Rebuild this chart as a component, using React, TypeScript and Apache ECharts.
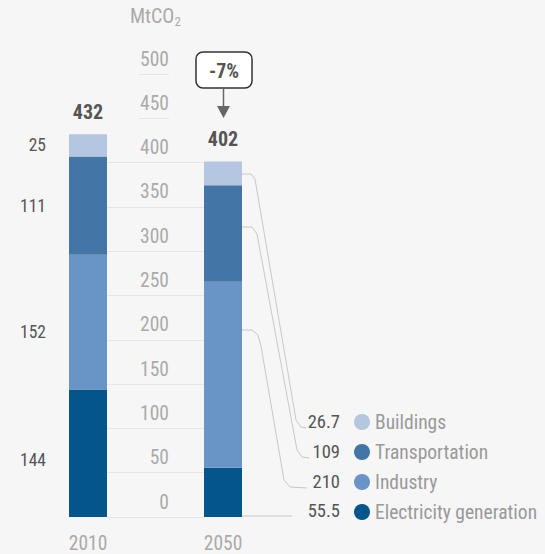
import React, { useEffect, useRef } from "react";
import * as echarts from "echarts";

const years = ["2010", "2050"];
const electricity = [144, 55.5];
const industry = [152, 210];
const transportation = [111, 109];
const buildings = [25, 26.7];
const totals = [432, 402];
const yTicks = [0, 50, 100, 150, 200, 250, 300, 350, 400, 450, 500];
const changeLabel = "-7%";
const seriesNames = ["Electricity generation", "Industry", "Transportation", "Buildings"];
const legendOrder = ["Buildings", "Transportation", "Industry", "Electricity generation"];
const colors = ["#03558b", "#6894c6", "#4376a6", "#b4c6e0"];
const labelShift = [7, 10, 0, 0];

const FONT = '"Roboto Condensed", "Liberation Sans Narrow", Roboto, sans-serif';

export default function App() {
  const ref = useRef<HTMLDivElement>(null);
  useEffect(() => {
    if (!ref.current) return;
    const chart = echarts.init(ref.current, null, { renderer: "svg" });
    const seriesData = [electricity, industry, transportation, buildings];
    const stackSeries = seriesData.map((arr, i) => ({
      name: seriesNames[i],
      type: "bar",
      stack: "total",
      barWidth: 38,
      xAxisIndex: 0,
      yAxisIndex: 0,
      itemStyle: { color: colors[i] },
      label: {
        show: false,
        position: "left",
        distance: 23,
        offset: [0, labelShift[i]],
        color: "#555",
        fontSize: 17.5,
        fontFamily: FONT,
      },
      data: arr.map((v, j) => (j === 0 ? { value: v, label: { show: true } } : v)),
    }));

    const legendValues = legendOrder.map((n) => {
      const idx = seriesNames.indexOf(n);
      return seriesData[idx][1];
    });

    const rowY = [422, 452, 482, 511];
    const graphics: any[] = [
      {
        type: "text",
        left: 130,
        top: 6,
        style: {
          text: "{a|MtCO}{b|2}",
          rich: {
            a: { fontSize: 20, fill: "#aaa", fontFamily: FONT },
            b: { fontSize: 13, fill: "#aaa", fontFamily: FONT, padding: [11, 0, 0, 0] },
          },
        },
      },
      {
        type: "rect",
        shape: { x: 196, y: 52, width: 56, height: 36, r: 7 },
        style: { fill: "#fff", stroke: "#333", lineWidth: 1.5 },
      },
      {
        type: "text",
        x: 224,
        y: 71,
        style: {
          text: changeLabel,
          fontSize: 20,
          fontWeight: "bold",
          fill: "#555",
          fontFamily: FONT,
          align: "center",
          verticalAlign: "middle",
        },
      },
      {
        type: "line",
        shape: { x1: 223.5, y1: 88, x2: 223.5, y2: 108 },
        style: { stroke: "#666", lineWidth: 1.5 },
      },
      {
        type: "polygon",
        shape: { points: [[217, 106], [230, 106], [223.5, 118]] },
        style: { fill: "#666" },
      },
      {
        type: "polyline",
        shape: { points: [[242, 174], [251, 174], [255, 179], [296, 420], [301, 427], [306, 428]] },
        style: { stroke: "#c8c8c8", lineWidth: 1, fill: null },
      },
      {
        type: "polyline",
        shape: { points: [[242, 227], [252, 227], [257, 234], [297, 450], [302, 457], [309, 458]] },
        style: { stroke: "#c8c8c8", lineWidth: 1, fill: null },
      },
      {
        type: "polyline",
        shape: { points: [[242, 330], [252, 330], [258, 335], [261, 346], [284, 480], [290, 487], [307, 488]] },
        style: { stroke: "#c8c8c8", lineWidth: 1, fill: null },
      },
      {
        type: "polyline",
        shape: { points: [[242, 516], [292, 516]] },
        style: { stroke: "#c8c8c8", lineWidth: 1, fill: null },
      },
    ];
    legendValues.forEach((v, i) => {
      graphics.push({
        type: "text",
        x: 340,
        y: rowY[i],
        style: {
          text: String(v),
          fontSize: 18.5,
          fill: "#555",
          fontFamily: FONT,
          align: "right",
          verticalAlign: "middle",
        },
      });
    });

    chart.setOption({
      animation: false,
      backgroundColor: "#f6f6f6",
      grid: [
        { left: 20.5, width: 270, top: 74, height: 443 },
        { left: 107, width: 97, top: 74, height: 443 },
      ],
      xAxis: [
        {
          type: "category",
          gridIndex: 0,
          data: years,
          axisLine: { show: false },
          axisTick: { show: false },
          axisLabel: { color: "#aaa", fontSize: 19.5, fontFamily: FONT, margin: 16 },
        },
        { type: "value", gridIndex: 1, min: 0, max: 97, show: false },
      ],
      yAxis: [
        { type: "value", gridIndex: 0, min: 0, max: 500, show: false },
        {
          type: "value",
          gridIndex: 1,
          min: 0,
          max: 500,
          interval: 50,
          axisLine: { show: false },
          axisTick: { show: false },
          splitLine: { show: false },
          axisLabel: {
            color: "#aaa",
            fontSize: 19.5,
            fontFamily: FONT,
            margin: -62,
            align: "right",
            verticalAlign: "bottom",
            padding: [0, 0, 5, 0],
          },
        },
      ],
      legend: {
        orient: "vertical",
        left: 349,
        top: 407,
        itemWidth: 16,
        itemHeight: 16,
        itemGap: 10,
        icon: "circle",
        selectedMode: false,
        data: legendOrder,
        textStyle: {
          color: "#999",
          fontSize: 19.5,
          lineHeight: 18,
          fontFamily: FONT,
        },
      },
      series: [
        ...stackSeries,
        {
          name: "Total",
          type: "bar",
          barWidth: 38,
          barGap: "-100%",
          xAxisIndex: 0,
          yAxisIndex: 0,
          itemStyle: { color: "rgba(0,0,0,0)" },
          label: {
            show: true,
            position: "top",
            distance: 12,
            fontSize: 20,
            fontWeight: "bold",
            color: "#555",
            fontFamily: FONT,
          },
          data: totals,
          z: 1,
        },
        {
          type: "line",
          xAxisIndex: 1,
          yAxisIndex: 1,
          data: [[0, 0]],
          showSymbol: false,
          lineStyle: { opacity: 0 },
          silent: true,
          markLine: {
            symbol: "none",
            silent: true,
            label: { show: false },
            lineStyle: { color: "#e6e6e6", width: 1, type: "solid" },
            data: yTicks.map((v) => [
              { coord: [v > 400 ? 32 : 0, v] },
              { coord: [v > 400 ? 62 : 97, v] },
            ]),
          },
        },
      ],
      graphic: graphics,
    });
    return () => chart.dispose();
  }, []);
  return (
    <div
      ref={ref}
      style={{ position: "fixed", left: 0, top: 0, width: 545, height: 554 }}
    />
  );
}
